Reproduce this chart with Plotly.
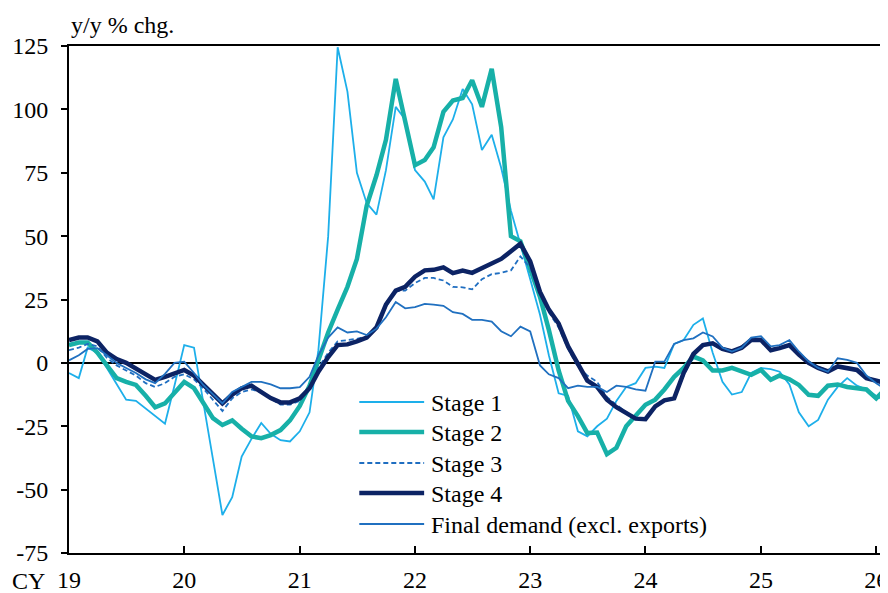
import pandas as pd
import plotly.graph_objects as go

dates = pd.date_range("2019-01-01", periods=86, freq="MS")

stage1 = [-4, -6, 6, 4, -2, -8.5, -14.5, -15, -18, -21, -24, -9,
          7, 6, -16, -38, -60, -53, -37, -30, -23.7, -28, -30.5, -31,
          -27, -19.5, 5, 50, 124.5, 107, 75, 63, 58.5, 76, 101, 96,
          76, 71.5, 64.5, 89, 96, 108, 102, 84, 90, 77, 60, 47,
          33, 19, 3, -12, -13, -27, -29, -25, -22, -15, -9.5, -8,
          -2, -1.5, -2, 7.5, 9, 15, 17.5, 4, -7.5, -12.5, -11.5, -4,
          -2, -2.5, -3.5, -8.5, -19.5, -25, -22.5, -14.5, -9.5, -6, -9, -10.5,
          -13, -15.5]
stage2 = [7, 8, 8, 4, -1, -6, -7.5, -8.7, -13, -17.5, -16, -12,
          -7.5, -10, -16, -21.8, -24.5, -22.7, -26, -29, -29.7, -28.5, -26.5, -22.7,
          -17, -9, 1, 12, 21, 30, 41, 62, 74, 88, 112, 95,
          78, 80, 85, 99, 103.5, 104.5, 111.5, 101, 116, 93, 50, 48,
          37, 26, 13, -3, -15, -21, -27.7, -27.5, -36, -33.5, -25, -21,
          -16.5, -14.5, -10.5, -5.5, -2, 2.5, 1, -3, -3, -2, -3.5, -4.7,
          -2.8, -6.7, -5, -6.5, -8.7, -12.6, -13, -9, -8.5, -9.5, -10, -10.5,
          -14, -10]
stage3 = [5, 6, 7.5, 6.5, 2, -1, -3, -5, -8, -9.5, -8, -5.5,
          -4.5, -6.5, -10, -14.5, -19, -14, -11.5, -10.5, -11.5, -14, -16.5, -16.5,
          -15, -10, -2, 4, 8.5, 9, 9.5, 10.5, 14, 22, 28.5, 28.5,
          31.5, 33.5, 33.5, 32.5, 30, 29.8, 29, 33, 35, 35.5, 36.5, 42,
          37.5, 27, 20, 14, 5.5, -1.5, -5, -7.5, -13.5, -16.5, -19.5, -21.5,
          -22, -17.5, -15, -14, -5, 3, 7, 7.5, 5, 4.5, 6.5, 9.5,
          9.5, 5.5, 6, 7.5, 3.5, 0.5, -1.5, -3, -1, -2, -2.5, -5.5,
          -7, -8.5]
stage4 = [9, 10, 10, 8.5, 4, 1.5, 0, -2.3, -4.5, -6.7, -5.5, -4,
          -2.8, -5, -8.7, -12.6, -16, -12.5, -10, -9, -11.3, -13.9, -15.6, -15.6,
          -14, -10, -3.5, 2.3, 7, 7.3, 8.5, 10, 14, 23, 28.5, 30,
          34, 36.5, 36.7, 37.7, 35.4, 36.4, 35.5, 37.5, 39.5, 41, 44, 47,
          40, 28, 21, 15.5, 6.5, 0, -7, -9.5, -14.5, -17.5, -20, -22,
          -22.2, -17.2, -14.8, -14, -4, 3.5, 7, 7.7, 5.5, 4.5, 6, 9,
          9, 5, 5.8, 7, 3.3, 0, -2, -3.4, -1.4, -2.1, -2.8, -6,
          -7, -8]
final_demand = [1, 3, 5.5, 5.8, 3, 0, -2, -4, -6.5, -8, -4.3, 0,
                0.5, -4, -8.7, -12.6, -16, -11.5, -9.5, -7.5, -7.5, -8.5, -10, -10,
                -9.6, -5.5, 3, 10, 14, 12, 12.4, 11, 13.5, 18, 24, 21.5,
                22, 23.3, 23, 22.5, 20, 19.3, 17, 17, 16.3, 12.5, 10.5, 14.3,
                12.4, -1, -4.5, -6, -10, -9, -9.5, -9.5, -11.5, -9, -9.5, -10.5,
                -11, 0.5, 0.5, 7.5, 9, 9.7, 12, 10.4, 6, 4.5, 6, 10,
                10.5, 6.5, 7, 9, 4.5, 0.5, -2, -3.5, 1.8, 1.2, 0, -5,
                -8, -10.5]

series_names = ["Stage 1", "Stage 2", "Stage 3", "Stage 4", "Final demand (excl. exports)"]
y_ticks = [-75, -50, -25, 0, 25, 50, 75, 100, 125]
y_ticktext = ["-75", "-50", "-25", "0", "25", "50", "75", "100", "125"]
x_tickvals = pd.date_range("2019-01-01", "2026-01-01", freq="YS")
x_ticktext = ["19", "20", "21", "22", "23", "24", "25", "26"]

FONT = "Liberation Serif, Times New Roman, serif"
FS = 24

styles = [
    dict(color="#1DAFEA", width=1.8),
    dict(color="#17B0A8", width=4.5),
    dict(color="#1F6EC1", width=1.8, dash="5px,3px"),
    dict(color="#0C2364", width=4.5),
    dict(color="#2070C0", width=1.8),
]
values = [stage1, stage2, stage3, stage4, final_demand]

fig = go.Figure()
for name, vals, st in zip(series_names, values, styles):
    fig.add_trace(go.Scatter(x=dates, y=vals, mode="lines", name=name, line=st,
                             showlegend=False))

# page body has an 8px margin; plot area spans px x 69..888, y 46..553
PL, PR, PT, PB = 69.0, 888.0, 46.0, 553.0
def px_x(px):
    return (px - PL) / (PR - PL)
def px_y(py):
    return (PB - py) / (PB - PT)

shapes = []
annotations = [
    dict(text="y/y % chg.", xref="paper", yref="paper", x=0, y=px_y(25),
         xanchor="left", yanchor="middle", showarrow=False,
         font=dict(family=FONT, size=FS, color="black")),
    dict(text="CY", xref="paper", yref="paper", x=px_x(28), y=px_y(581),
         xanchor="center", yanchor="middle", showarrow=False,
         font=dict(family=FONT, size=FS, color="black")),
]
legend_rows = [402, 432, 463, 493, 524]
for name, st, ry in zip(series_names, styles, legend_rows):
    shapes.append(dict(type="line", xref="paper", yref="paper",
                       x0=px_x(360), x1=px_x(425), y0=px_y(ry), y1=px_y(ry),
                       line=st))
    annotations.append(dict(text=name, xref="paper", yref="paper",
                            x=px_x(430), y=px_y(ry + 1), xanchor="left", yanchor="middle",
                            showarrow=False,
                            font=dict(family=FONT, size=FS, color="black")))

fig.update_layout(
    width=880, height=585,
    margin=dict(l=61, r=0, t=38, b=40),
    paper_bgcolor="white", plot_bgcolor="white",
    font=dict(family=FONT, size=FS, color="black"),
    showlegend=False,
    shapes=shapes,
    annotations=annotations,
)
fig.update_xaxes(
    range=["2019-01-01", "2026-02-01"],
    tickvals=x_tickvals, ticktext=x_ticktext,
    ticks="inside", ticklen=7, tickwidth=2, tickcolor="black",
    showline=True, linecolor="black", linewidth=2, mirror=True,
    showgrid=False, zeroline=False,
    tickfont=dict(family=FONT, size=FS, color="black"),
    ticklabelstandoff=4,
    ticklabeloverflow="allow",
)
fig.update_yaxes(
    range=[-75, 125],
    tickvals=y_ticks, ticktext=y_ticktext,
    ticks="outside", ticklen=6, tickwidth=2, tickcolor="black",
    showline=True, linecolor="black", linewidth=2,
    showgrid=False, zeroline=True, zerolinecolor="black", zerolinewidth=2,
    tickfont=dict(family=FONT, size=FS, color="black"),
    ticklabelstandoff=8,
)

fig.write_html("out.html")
